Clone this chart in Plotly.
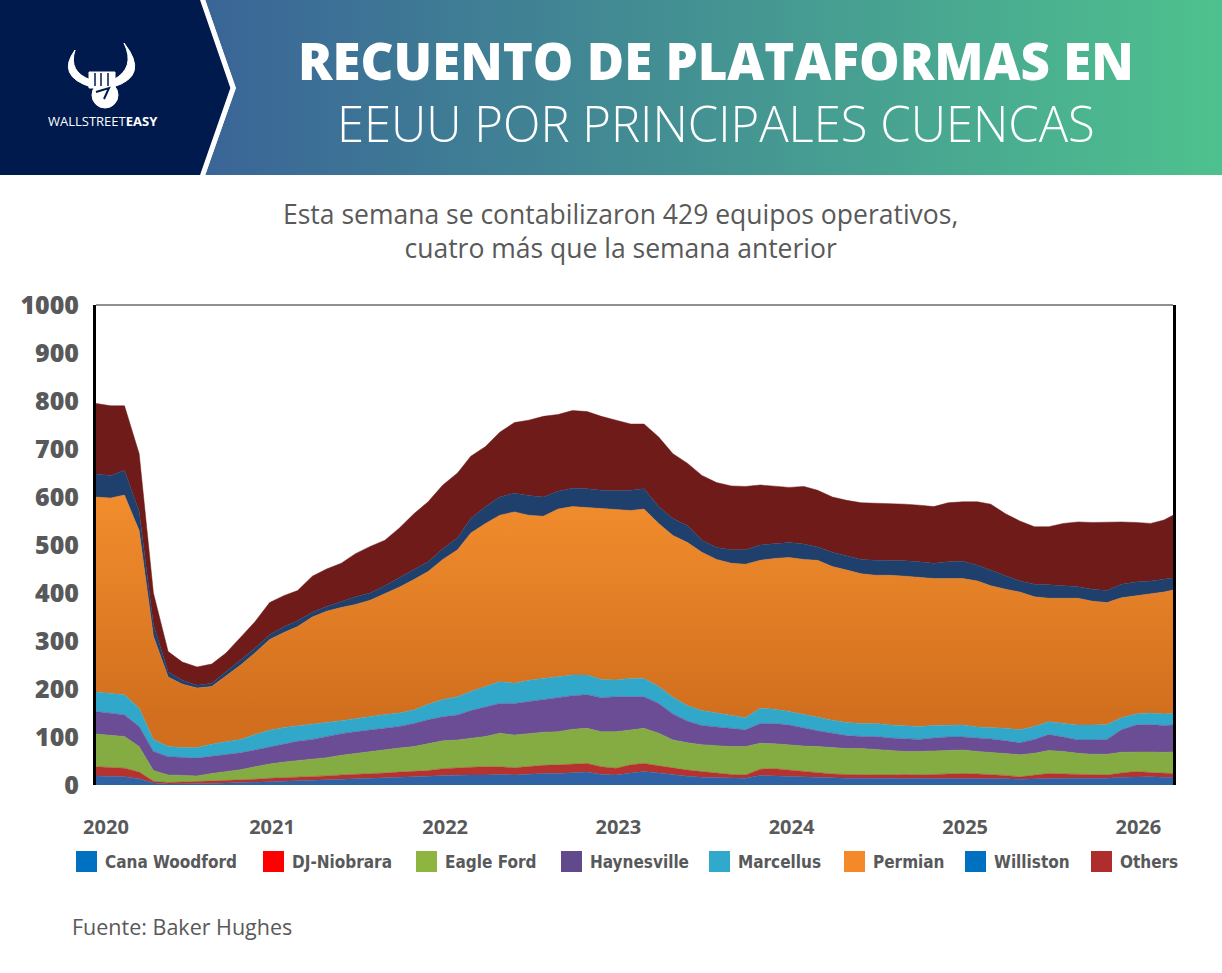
"""
Recuento de plataformas en EEUU por principales cuencas
Stacked area chart built with Plotly
"""

import plotly.graph_objects as go
import pandas as pd

W, H = 1222, 973

# monthly readings, Jan 2020 .. Mar 2026, plus the last weekly print
dates = list(pd.date_range('2020-01-01', periods=75, freq='MS')) + [pd.Timestamp('2026-03-20')]

cana_woodford = [19, 18, 17, 13, 4, 2, 2, 2, 3, 4, 5, 6, 7, 8, 9, 10, 11, 12, 12, 13,
                 15, 15, 16, 18, 20, 21, 21, 21, 22, 21, 23, 24, 24, 26, 27, 22, 21, 25, 28, 25,
                 21, 18, 16, 15, 14, 14, 20, 19, 17, 16, 16, 15, 14, 14, 14, 14, 14, 13, 13, 13,
                 14, 14, 14, 13, 12, 13, 14, 14, 14, 14, 14, 16, 17, 17, 16, 16]
dj_niobrara = [19, 19, 18, 14, 4, 3, 4, 5, 5, 5, 5, 6, 7, 7, 7, 7, 8, 9, 10, 10,
               10, 12, 12, 12, 14, 15, 16, 17, 16, 15, 16, 17, 18, 18, 18, 16, 14, 17, 17, 15,
               14, 13, 12, 10, 8, 7, 13, 15, 14, 12, 9, 8, 8, 7, 7, 7, 8, 8, 9, 9,
               10, 9, 8, 7, 5, 7, 10, 9, 8, 8, 7, 9, 11, 9, 8, 8]
eagle_ford = [68, 67, 66, 53, 22, 16, 14, 12, 16, 19, 22, 26, 30, 33, 35, 36, 38, 41, 44, 47,
              48, 50, 52, 56, 58, 58, 60, 63, 70, 68, 68, 69, 69, 72, 73, 73, 76, 73, 73, 68,
              59, 57, 56, 57, 58, 59, 54, 52, 52, 53, 55, 55, 54, 55, 53, 51, 48, 49, 49, 50,
              49, 47, 46, 46, 46, 46, 48, 47, 44, 42, 43, 43, 41, 43, 44, 45]
haynesville = [47, 46, 45, 42, 40, 38, 37, 37, 36, 36, 35, 35, 35, 38, 40, 42, 44, 45, 45, 45,
               45, 45, 48, 50, 50, 52, 58, 62, 62, 66, 67, 68, 70, 70, 70, 71, 73, 69, 66, 62,
               54, 45, 40, 39, 38, 35, 41, 42, 42, 37, 33, 30, 27, 25, 27, 26, 26, 25, 27, 28,
               27, 28, 28, 26, 25, 29, 33, 30, 28, 30, 31, 47, 56, 57, 56, 56]
marcellus = [41, 41, 42, 38, 25, 21, 21, 22, 25, 26, 28, 32, 35, 34, 32, 31, 29, 27, 27, 28,
             29, 28, 28, 32, 36, 38, 40, 42, 45, 42, 44, 44, 45, 43, 41, 38, 35, 38, 38, 35,
             35, 32, 31, 29, 27, 25, 32, 30, 28, 28, 28, 27, 27, 27, 27, 27, 27, 27, 26, 25,
             25, 23, 24, 26, 27, 27, 27, 28, 31, 31, 31, 25, 23, 24, 24, 24]
permian = [406, 407, 416, 370, 215, 145, 132, 124, 120, 138, 155, 170, 189, 198, 207, 224, 232, 236, 238, 242,
           251, 262, 272, 277, 292, 306, 330, 340, 347, 357, 344, 338, 349, 351, 349, 356, 355, 350, 353, 340,
           337, 340, 330, 320, 317, 320, 308, 314, 321, 324, 327, 320, 318, 312, 309, 312, 312, 311, 306, 305,
           305, 304, 295, 290, 287, 270, 257, 261, 264, 258, 254, 250, 246, 248, 254, 257]
williston = [48, 47, 51, 40, 25, 11, 8, 6, 7, 8, 10, 10, 10, 12, 12, 10, 10, 12, 16, 15,
             17, 20, 20, 20, 22, 25, 30, 35, 38, 39, 41, 40, 37, 38, 39, 38, 39, 42, 42, 35,
             35, 35, 25, 25, 28, 30, 32, 30, 31, 32, 28, 30, 30, 30, 31, 31, 32, 32, 32, 35,
             36, 33, 32, 28, 23, 26, 28, 26, 24, 25, 25, 28, 29, 27, 26, 25]
others = [147, 145, 135, 120, 65, 42, 38, 38, 40, 39, 48, 55, 67, 65, 63, 75, 78, 80, 90, 97,
          95, 103, 117, 125, 133, 135, 130, 125, 135, 147, 157, 168, 160, 162, 161, 154, 147, 138, 135, 145,
          135, 130, 135, 135, 133, 132, 125, 120, 115, 120, 118, 115, 115, 118, 119, 119, 118, 118, 118, 123,
          124, 132, 138, 129, 125, 120, 121, 130, 135, 139, 143, 130, 124, 120, 124, 131]

series = [
    ('Cana Woodford', cana_woodford, '#2F62A5'),
    ('DJ-Niobrara', dj_niobrara, '#B5322F'),
    ('Eagle Ford', eagle_ford, '#84AC42'),
    ('Haynesville', haynesville, '#6A4D94'),
    ('Marcellus', marcellus, '#31A7C9'),
    ('Permian', permian, '#E47E25'),
    ('Williston', williston, '#1F3F6D'),
    ('Others', others, '#6E1B19'),
]

# legend: label, left edge of swatch (px), swatch colour
legend_items = [
    ('Cana Woodford', 76, '#0070C0'),
    ('DJ-Niobrara', 263, '#FF0000'),
    ('Eagle Ford', 416, '#8DB53F'),
    ('Haynesville', 561, '#604A8B'),
    ('Marcellus', 709, '#31A9CC'),
    ('Permian', 844, '#F4892A'),
    ('Williston', 965, '#0070C0'),
    ('Others', 1091, '#AE2E2E'),
]

year_labels = ['2020', '2021', '2022', '2023', '2024', '2025', '2026']
year_ticks = ['2020-01-22', '2021-01-06', '2022-01-06', '2023-01-06',
              '2024-01-06', '2025-01-06', '2026-01-06']

GREY = '#58595B'
LEGEND_FONT = 'DejaVu Sans Condensed, Roboto Condensed, Liberation Sans Narrow, Liberation Sans'


def px(x):
    return x / W


def py(y):
    return 1 - y / H


def note(text, x, y, size, color=GREY, family='Open Sans', weight='normal', xanchor='center', **kw):
    return dict(text=text, x=px(x), y=py(y), xref='paper', yref='paper', showarrow=False,
                xanchor=xanchor, yanchor='middle',
                font=dict(family=family, size=size, color=color, weight=weight), **kw)


fig = go.Figure()

# stacked areas
for name, vals, color in series:
    kw = {}
    if name == 'Permian':
        kw['fillgradient'] = dict(type='vertical', start=150, stop=600,
                                  colorscale=[[0, '#D26F1E'], [1, '#F28D2D']])
    fig.add_trace(go.Scatter(
        x=dates, y=vals, name=name, mode='lines', stackgroup='one',
        line=dict(width=0.5, color=color), fillcolor=color,
        showlegend=False, hoverinfo='skip', **kw
    ))

# header band (pixel coordinates on a hidden axis pair)
fig.add_trace(go.Scatter(
    x=[205, 236, 205, 1222, 1222, 205], y=[0, 88, 175, 175, 0, 0],
    xaxis='x2', yaxis='y2', mode='lines', fill='toself', line=dict(width=0),
    fillgradient=dict(type='horizontal', colorscale=[[0, '#3A6597'], [1, '#4EC18E']]),
    showlegend=False, hoverinfo='skip'
))

shapes = [
    # navy logo block with chevron
    dict(type='path', xref='x2', yref='y2', path='M 0,0 L 201,0 L 232,88 L 201,175 L 0,175 Z',
         fillcolor='#001A4D', line=dict(width=0)),
    dict(type='path', xref='x2', yref='y2', path='M 202,-2 L 233,88 L 202,177',
         line=dict(color='white', width=5)),
    # bull logo: horns, fist
    dict(type='path', xref='x2', yref='y2', path='M 75,50 Q 56,76 91,87 L 91,80 Q 68,72 75,50 Z',
         fillcolor='white', line=dict(color='white', width=1)),
    dict(type='path', xref='x2', yref='y2', path='M 124,43 Q 150,76 113,87 L 113,80 Q 136,68 124,43 Z',
         fillcolor='white', line=dict(color='white', width=1)),
    dict(type='circle', xref='x2', yref='y2', x0=92, x1=118, y0=82, y1=108,
         fillcolor='white', line=dict(color='white', width=1)),
    dict(type='rect', xref='x2', yref='y2', x0=89, x1=115, y0=72, y1=88,
         fillcolor='white', line=dict(color='white', width=1)),
    dict(type='path', xref='x2', yref='y2', path='M 95,73 L 95,86 M 101,73 L 101,86 M 108,73 L 108,86',
         line=dict(color='#001A4D', width=1.5)),
    dict(type='path', xref='x2', yref='y2', path='M 96,92 L 109,88 L 104,99',
         line=dict(color='#001A4D', width=2)),
    # thin top border of the plot
    dict(type='line', xref='x domain', yref='y domain', x0=0, x1=1, y0=1, y1=1,
         line=dict(color='#222222', width=1.2)),
]

annotations = [
    note('WALLSTREET<b>EASY</b>', 103, 121, 13, color='white'),
    note('RECUENTO DE PLATAFORMAS EN', 716, 60, 51, color='white', weight=800),
    note('EEUU POR PRINCIPALES CUENCAS', 716, 123, 49, color='white', weight=300),
    note('Esta semana se contabilizaron 429 equipos operativos,<br>cuatro más que la semana anterior',
         620, 231, 26.5, color='#595959', align='center'),
    note('Fuente: Baker Hughes', 70, 926, 21.5, color='#595959', xanchor='left'),
]

# legend drawn by hand: square swatches + condensed bold labels
for label, x0, color in legend_items:
    shapes.append(dict(type='rect', xref='paper', yref='paper',
                       x0=px(x0), x1=px(x0 + 21), y0=py(851), y1=py(872),
                       fillcolor=color, line=dict(width=0)))
    annotations.append(note(label, x0 + 27, 862, 17, family=LEGEND_FONT, weight='bold',
                            xanchor='left'))

fig.update_layout(
    width=W, height=H,
    margin=dict(l=0, r=0, t=0, b=0, pad=0, autoexpand=False),
    paper_bgcolor='white', plot_bgcolor='white',
    hovermode=False,
    showlegend=False,
    xaxis=dict(
        domain=[px(96), px(1173)], range=['2020-01-01', '2026-03-20'],
        tickvals=year_ticks, ticktext=year_labels, ticks='',
        showgrid=False, zeroline=False, showline=False,
        ticklabelstandoff=28,
        tickfont=dict(family='Open Sans', size=20, color=GREY, weight='bold'),
    ),
    yaxis=dict(
        domain=[py(785), py(305)], range=[0, 1000], dtick=100,
        showgrid=False, zeroline=False, ticks='',
        showline=True, linecolor='black', linewidth=3, mirror=True,
        ticklabelstandoff=9,
        tickfont=dict(family='Open Sans', size=25, color=GREY, weight=800),
    ),
    xaxis2=dict(domain=[0, 1], range=[0, W], anchor='y2', visible=False, fixedrange=True),
    yaxis2=dict(domain=[py(175), 1], range=[175, 0], anchor='x2', visible=False, fixedrange=True),
    shapes=shapes,
    annotations=annotations,
)

fig.write_html("out.html", config={'displayModeBar': False},
               post_script="document.body.style.margin='0px';")
